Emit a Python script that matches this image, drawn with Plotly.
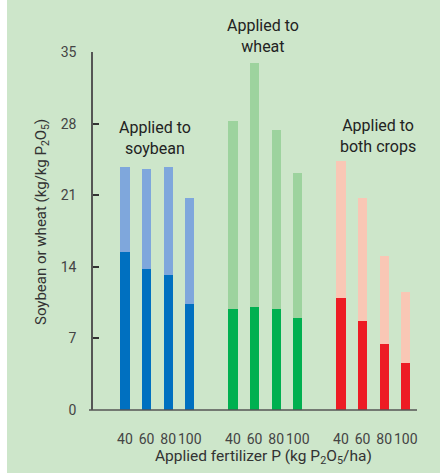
import plotly.graph_objects as go

rates = ["40", "60", "80", "100"]
groups = ["Applied to<br>soybean", "Applied to<br>wheat", "Applied to<br>both crops"]

# total (light) and soybean portion (dark), kg/kg P2O5
soy_total = [23.8, 23.55, 23.8, 20.7]
soy_dark = [15.45, 13.8, 13.2, 10.4]
wheat_total = [28.3, 33.9, 27.4, 23.2]
wheat_dark = [9.85, 10.1, 9.85, 9.0]
both_total = [24.3, 20.7, 15.1, 11.5]
both_dark = [10.95, 8.7, 6.5, 4.55]

yticks = [0, 7, 14, 21, 28, 35]

slots = [[0, 1, 2, 3], [5, 6, 7, 8], [10, 11, 12, 13]]
light_cols = ["#7fa7dc", "#9dd39e", "#f9c7b5"]
dark_cols = ["#0070c0", "#00b050", "#ed1c24"]
totals = [soy_total, wheat_total, both_total]
darks = [soy_dark, wheat_dark, both_dark]

fig = go.Figure()
for i in range(3):
    fig.add_trace(go.Bar(x=slots[i], y=totals[i], marker=dict(color=light_cols[i], line=dict(width=0)),
                         width=0.42, showlegend=False, hoverinfo="skip"))
    fig.add_trace(go.Bar(x=slots[i], y=darks[i], marker=dict(color=dark_cols[i], line=dict(width=0)),
                         width=0.42, showlegend=False, hoverinfo="skip"))

W, H = 440, 474
L, R, T, B = 93, 417, 52, 410
pw, ph = R - L, B - T

def px(x):
    return (x - L) / pw

def py(y):
    return (B - y) / ph

tickvals = [s for g in slots for s in g]
ticktext = rates * 3

FAM = "Roboto, Open Sans, sans-serif"
txt_font = dict(family=FAM, size=16, color="#222222")
ann = []
lab_pos = [(155, 138), (263, 36), (378, 136)]
for g, (xx, yy) in zip(groups, lab_pos):
    ann.append(dict(text=g, x=px(xx), y=py(yy), xref="paper", yref="paper", showarrow=False,
                    xanchor="center", yanchor="middle", font=txt_font, align="center"))
ann.append(dict(text="Applied fertilizer P (kg P<sub>2</sub>O<sub>5</sub>/ha)", x=px(263), y=py(457),
                xref="paper", yref="paper", showarrow=False, xanchor="center", yanchor="middle",
                font=dict(family=FAM, size=15.5, color="#333333")))
ann.append(dict(text="Soybean or wheat (kg/kg P<sub>2</sub>O<sub>5</sub>)", x=px(42), y=py(222),
                xref="paper", yref="paper", showarrow=False, xanchor="center", yanchor="middle",
                textangle=-90, font=dict(family=FAM, size=15, color="#333333")))

fig.update_layout(
    width=W, height=H,
    margin=dict(l=L, r=W - R, t=T, b=H - B, pad=0),
    paper_bgcolor="#cde6ca", plot_bgcolor="rgba(0,0,0,0)",
    barmode="overlay", bargap=0,
    annotations=ann,
    shapes=[
        dict(type="rect", xref="paper", yref="paper", x0=px(-5), x1=px(7), y0=py(-5), y1=py(480),
             fillcolor="white", line=dict(width=0), layer="below"),
        dict(type="rect", xref="paper", yref="paper", x0=px(-5), x1=px(445), y0=py(473), y1=py(480),
             fillcolor="white", line=dict(width=0), layer="below"),
        dict(type="line", xref="paper", yref="paper", x0=px(89), x1=1, y0=0, y1=0,
             line=dict(color="#555555", width=1.5)),
    ],
    xaxis=dict(range=[-1.48, 13.52], tickvals=tickvals, ticktext=ticktext, showgrid=False,
               zeroline=False, showline=False, ticks="", ticklabelstandoff=19, tickangle=0,
               tickfont=dict(family=FAM, size=14, color="#444444")),
    yaxis=dict(range=[0, 35], tickvals=yticks, showgrid=False, zeroline=False, showline=True,
               linecolor="#555555", linewidth=1.5, ticks="inside", ticklen=6, tickwidth=2,
               tickcolor="#333333", ticklabelstandoff=12,
               tickfont=dict(family=FAM, size=14, color="#444444")),
    font=dict(family=FAM),
)

fig.write_html("out.html", config={"displayModeBar": False},
               post_script="document.body.style.margin='0';document.body.style.overflow='hidden';")
